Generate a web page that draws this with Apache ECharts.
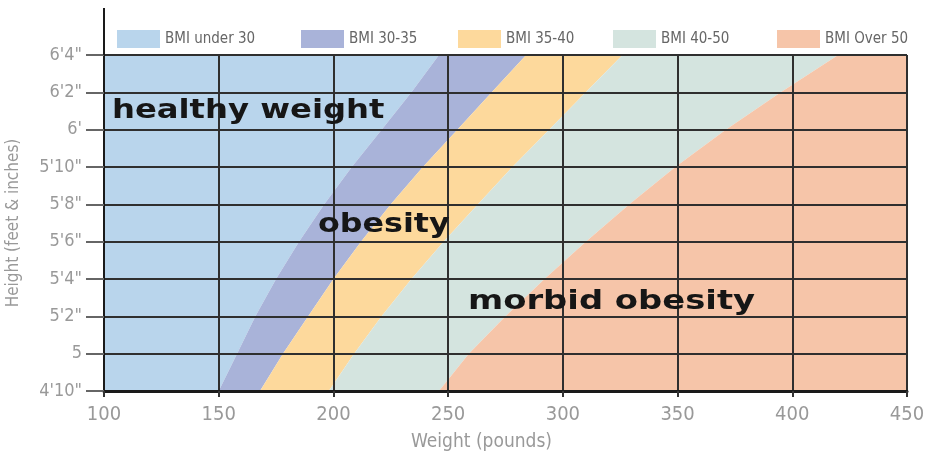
<!DOCTYPE html>
<html>
<head>
<meta charset="utf-8">
<script src="https://cdn.jsdelivr.net/npm/echarts@6/dist/echarts.min.js"></script>
<style>
html, body { margin: 0; padding: 0; background: #fff; }
#main { width: 943px; height: 459px; }
</style>
</head>
<body>
<div id="main"></div>
<script>
// heights in inches, boundaries in pounds
var heights = [58, 60, 62, 64, 66, 68, 70, 72, 74, 76];
var bmi30 = [150, 158, 166, 175, 185, 196, 208, 221, 234, 246];
var bmi35 = [168, 178, 189, 200, 212, 225, 239, 254, 269, 284];
var bmi40 = [198, 209, 221, 234, 248, 263, 278, 294, 310, 326];
var bmi50 = [246, 259, 275, 292, 310, 329, 349, 371, 395, 420];

var bandNames = ['BMI under 30', 'BMI 30-35', 'BMI 35-40', 'BMI 40-50', 'BMI Over 50'];
var bandColors = ['#b9d5ec', '#a9b3d9', '#fdd99c', '#d4e4df', '#f6c5a9'];

var xMin = 100, xMax = 450, xStep = 50;
var yTickLabels = ['4\'10"', '5', '5\'2"', '5\'4"', '5\'6"', '5\'8"', '5\'10"', '6\'', '6\'2"', '6\'4"'];

var leftEdge = heights.map(function () { return xMin; });
var rightEdge = heights.map(function () { return xMax; });
var bounds = [leftEdge, bmi30, bmi35, bmi40, bmi50, rightEdge];

var narrow = '"DejaVu Sans Condensed", "Liberation Sans", sans-serif';

var myChart = echarts.init(document.getElementById('main'));

function bandSeries(i) {
    return {
        name: bandNames[i],
        type: 'custom',
        itemStyle: { color: bandColors[i] },
        data: [[xMin, heights[0]]],
        silent: true,
        renderItem: function (params, api) {
            var pts = [];
            var left = bounds[i], right = bounds[i + 1];
            for (var k = 0; k < heights.length; k++) {
                pts.push(api.coord([left[k], heights[k]]));
            }
            for (var k = heights.length - 1; k >= 0; k--) {
                pts.push(api.coord([right[k], heights[k]]));
            }
            return {
                type: 'polygon',
                shape: { points: pts },
                style: { fill: api.visual('color') }
            };
        }
    };
}

var legendLeft = [112, 296, 453, 608, 772];
var legends = bandNames.map(function (n, i) {
    return {
        data: [n],
        left: legendLeft[i],
        top: 25,
        icon: 'rect',
        itemWidth: 43,
        itemHeight: 18,
        selectedMode: false,
        textStyle: { color: '#666', fontSize: 15, fontFamily: narrow }
    };
});

var option = {
    animation: false,
    legend: legends,
    grid: { left: 104, right: 36, top: 55, bottom: 68, containLabel: false, outerBoundsMode: 'none' },
    xAxis: {
        type: 'value',
        min: xMin,
        max: xMax,
        interval: xStep,
        z: 5,
        name: 'Weight (pounds)',
        nameLocation: 'middle',
        nameGap: 42,
        nameTextStyle: { color: '#999', fontSize: 19, fontFamily: narrow, padding: [0, 48, 0, 0] },
        axisLine: { lineStyle: { color: '#1a1a1a', width: 3 } },
        axisTick: { show: true, length: 6, lineStyle: { color: '#333', width: 2 } },
        axisLabel: { color: '#999', fontSize: 20, fontFamily: narrow, margin: 14 },
        splitLine: { show: true, lineStyle: { color: '#2f2f2f', width: 2 } }
    },
    yAxis: {
        type: 'value',
        min: heights[0],
        max: heights[heights.length - 1],
        interval: 2,
        z: 5,
        name: 'Height (feet & inches)',
        nameLocation: 'middle',
        nameGap: 82,
        nameTextStyle: { color: '#999', fontSize: 17, fontFamily: narrow },
        axisLine: { show: true, lineStyle: { color: '#1a1a1a', width: 2 } },
        axisTick: { show: true, length: 18, lineStyle: { color: '#666', width: 2 } },
        axisLabel: {
            color: '#999',
            fontSize: 18,
            fontFamily: narrow,
            margin: 22,
            formatter: function (v) {
                return yTickLabels[(v - heights[0]) / 2];
            }
        },
        splitLine: { show: true, lineStyle: { color: '#2f2f2f', width: 2 } }
    },
    graphic: [
        { type: 'line', z: 10, shape: { x1: 104, y1: 8, x2: 104, y2: 55 }, style: { stroke: '#1a1a1a', lineWidth: 2 } },
        { type: 'text', z: 10, x: 112, y: 111, scaleX: 1.24,
          style: { text: 'healthy weight', fill: '#161616', font: 'bold 26px "DejaVu Sans"', verticalAlign: 'middle' } },
        { type: 'text', z: 10, x: 318, y: 225, scaleX: 1.22,
          style: { text: 'obesity', fill: '#161616', font: 'bold 26px "DejaVu Sans"', verticalAlign: 'middle' } },
        { type: 'text', z: 10, x: 468, y: 302, scaleX: 1.3,
          style: { text: 'morbid obesity', fill: '#161616', font: 'bold 26px "DejaVu Sans"', verticalAlign: 'middle' } }
    ],
    series: [0, 1, 2, 3, 4].map(bandSeries)
};

myChart.setOption(option);
window.addEventListener('resize', function () {
    myChart.resize();
});
</script>
</body>
</html>
